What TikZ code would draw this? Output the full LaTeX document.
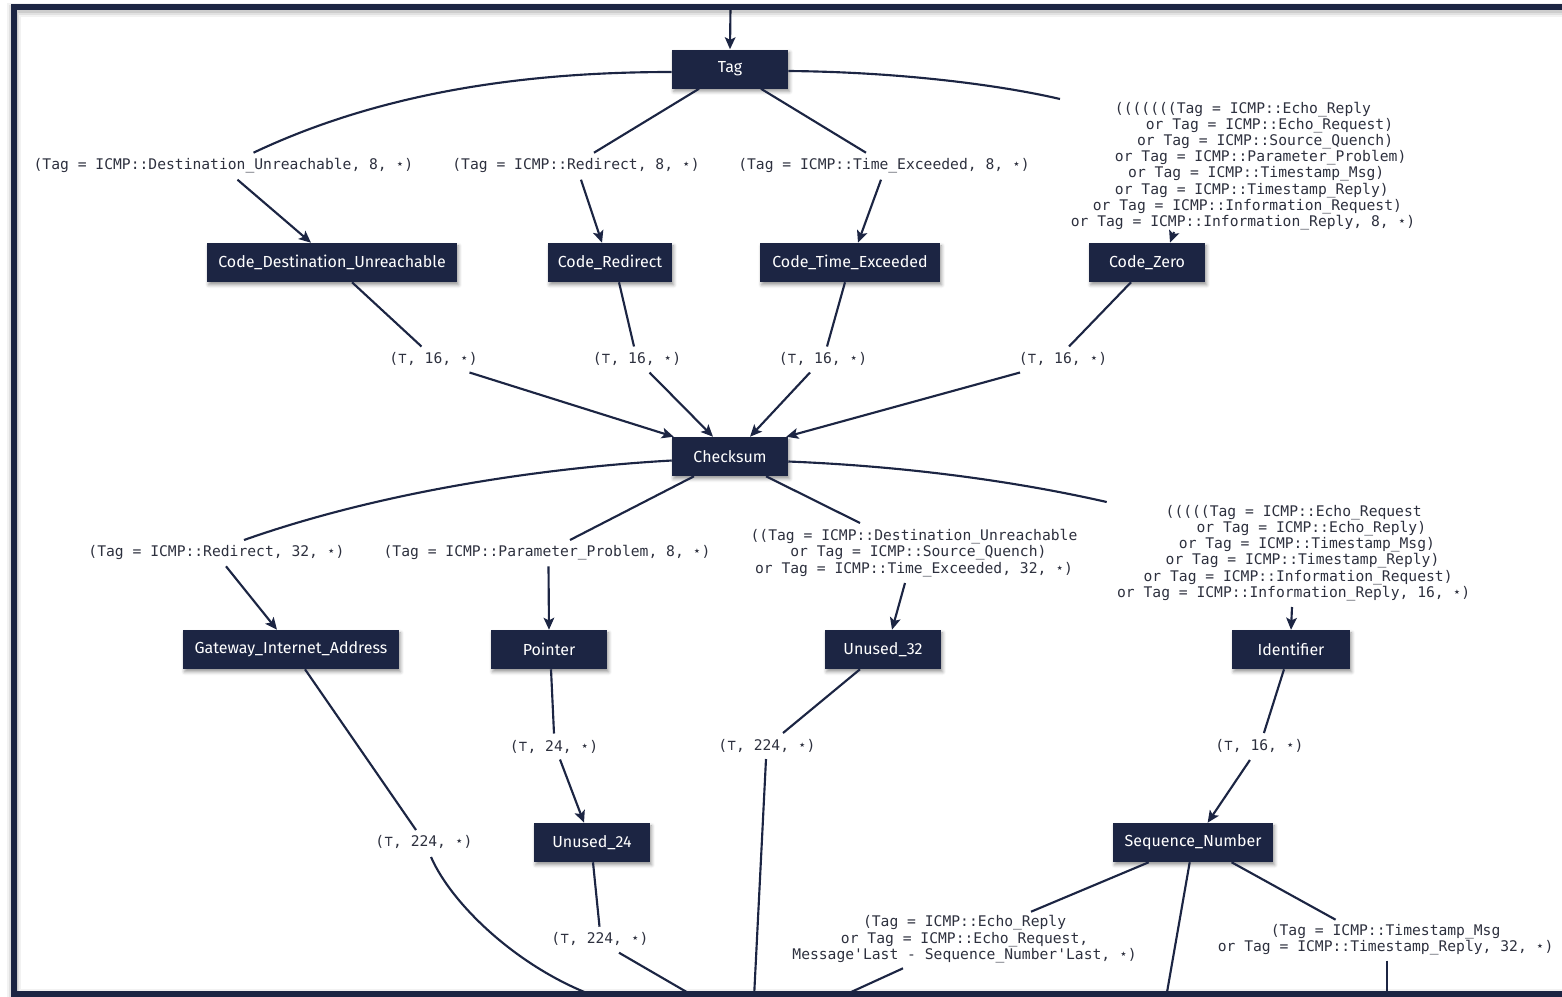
\documentclass[tikz,border=0pt]{standalone}
\usepackage{fontspec}
\setsansfont{Fira Sans}
\newfontfamily\condmono{DejaVu Sans Mono}[Ligatures=TeXOff]
\usetikzlibrary{calc,arrows.meta,shadows.blur}

\definecolor{navy}{RGB}{28,37,67}
\definecolor{condink}{RGB}{45,48,62}

\begin{document}
\begin{tikzpicture}[x=0.75pt,y=-0.75pt,
  field/.style={fill=navy, text=white, font=\sffamily\fontsize{12}{14}\selectfont,
    minimum width=#1*0.75pt, minimum height=29.25pt, inner sep=0pt,
    blur shadow={shadow xshift=1.2pt, shadow yshift=-2.2pt,
      shadow blur radius=2.5pt, shadow opacity=40}},
  cond/.style={font=\condmono\fontsize{11}{12.15}\selectfont, text=condink,
    align=center, inner sep=0pt},
  link/.style={draw=navy, line width=1.6pt},
  flow/.style={link, -{Stealth[length=9pt,width=8pt,inset=2pt]}},
]
\useasboundingbox (0,0) rectangle (1562,996);

\begin{scope}
\clip (14,7) rectangle (1562,993.5);

% record fields
\node[field=116] (tag)   at (730,69)     {Tag};
\node[field=250] (cdu)   at (332,262.5)  {Code\_Destination\_Unreachable};
\node[field=124] (cred)  at (610,262.5)  {Code\_Redirect};
\node[field=180] (cte)   at (850,262.5)  {Code\_Time\_Exceeded};
\node[field=116] (czero) at (1147,262.5) {Code\_Zero};
\node[field=116] (chk)   at (730,456.5)  {Checksum};
\node[field=216] (gia)   at (291,649.5)  {Gateway\_Internet\_Address};
\node[field=116] (ptr)   at (549,649.5)  {Pointer};
\node[field=116] (u32)   at (883,649.5)  {Unused\_32};
\node[field=118] (ident) at (1291,649.5) {Identifier};
\node[field=116] (u24)   at (592,842.5)  {Unused\_24};
\node[field=160] (seq)   at (1193,842.5) {Sequence\_Number};

% transition conditions
\node[cond] (l1) at (223.5,165.7) {(Tag = ICMP::Destination\_Unreachable, 8, ⋆)};
\node[cond] (l2) at (576,165.7) {(Tag = ICMP::Redirect, 8, ⋆)};
\node[cond] (l3) at (884,165.7) {(Tag = ICMP::Time\_Exceeded, 8, ⋆)};
\node[cond] (l4) at (1243,166) {(((((((Tag = ICMP::Echo\_Reply\\
  \hphantom{000000}or Tag = ICMP::Echo\_Request)\\
  \hphantom{00000}or Tag = ICMP::Source\_Quench)\\
  \hphantom{0000}or Tag = ICMP::Parameter\_Problem)\\
  \hphantom{000}or Tag = ICMP::Timestamp\_Msg)\\
  \hphantom{00}or Tag = ICMP::Timestamp\_Reply)\\
  \hphantom{0}or Tag = ICMP::Information\_Request)\\
  or Tag = ICMP::Information\_Reply, 8, ⋆)};

\node[cond] (t1) at (433.5,358.5) {(⊤, 16, ⋆)};
\node[cond] (t2) at (637,358.5)   {(⊤, 16, ⋆)};
\node[cond] (t3) at (823,358.5)   {(⊤, 16, ⋆)};
\node[cond] (t4) at (1063,358.5)  {(⊤, 16, ⋆)};

\node[cond] (r32) at (216.5,552.3) {(Tag = ICMP::Redirect, 32, ⋆)};
\node[cond] (pp)  at (547,552.3)   {(Tag = ICMP::Parameter\_Problem, 8, ⋆)};
\node[cond] (dsq) at (914,553) {((Tag = ICMP::Destination\_Unreachable\\
  \hphantom{0}or Tag = ICMP::Source\_Quench)\\
  or Tag = ICMP::Time\_Exceeded, 32, ⋆)};
\node[cond] (ech) at (1293.7,553) {(((((Tag = ICMP::Echo\_Request\\
  \hphantom{0000}or Tag = ICMP::Echo\_Reply)\\
  \hphantom{000}or Tag = ICMP::Timestamp\_Msg)\\
  \hphantom{00}or Tag = ICMP::Timestamp\_Reply)\\
  \hphantom{0}or Tag = ICMP::Information\_Request)\\
  or Tag = ICMP::Information\_Reply, 16, ⋆)};

\node[cond] (t24)  at (554,746.5)  {(⊤, 24, ⋆)};
\node[cond] (t224b) at (767,746)   {(⊤, 224, ⋆)};
\node[cond] (t16)  at (1259.4,746) {(⊤, 16, ⋆)};
\node[cond] (t224a) at (424,842)   {(⊤, 224, ⋆)};
\node[cond] (t224c) at (600,939.3) {(⊤, 224, ⋆)};
\node[cond] (eseq) at (964.6,939.3) {(Tag = ICMP::Echo\_Reply\\
  or Tag = ICMP::Echo\_Request,\\
  Message'Last - Sequence\_Number'Last, ⋆)};
\node[cond] (tseq) at (1385.6,939.7) {(Tag = ICMP::Timestamp\_Msg\\
  or Tag = ICMP::Timestamp\_Reply, 32, ⋆)};

% loose ends at the border of the view
\coordinate (entry) at (730.5,7);
\coordinate (outa) at (600,998);
\coordinate (outb) at (754,998);
\coordinate (outc) at (697,998);
\coordinate (oute) at (838,998);
\coordinate (outs) at (1166,998);
\coordinate (outt) at (1386.6,998);

% Tag
\draw[flow] (entry) -- (tag.north);
\draw[link] ($(tag.west)+(0,3)$) .. controls (540,72) and (390,88) .. ($(l1.center)+(30,-13)$);
\draw[flow] ($(l1.center)+(14,14)$) -- ($(cdu.north)+(-21,0)$);
\draw[link] ($(tag.south)+(-31,0)$) -- ($(l2.center)+(18,-13)$);
\draw[flow] ($(l2.center)+(5,14)$) -- ($(cred.north)+(-8,0)$);
\draw[link] ($(tag.south)+(31,0)$) -- ($(l3.center)+(-18,-13)$);
\draw[flow] ($(l3.center)+(-3,14)$) -- ($(cte.north)+(8,0)$);
\draw[link] ($(tag.east)+(0,2)$) .. controls (900,72) and (1000,85) .. ($(l4.center)+(-183,-67)$);
\draw[flow] ($(l4.center)+(-69,66)$) -- ($(czero.north)+(23,0)$);

% Code fields into Checksum
\draw[link] ($(cdu.south)+(20,0)$) -- ($(t1.center)+(-12,-12)$);
\draw[flow] ($(t1.center)+(36,14)$) -- ($(chk.north west)+(2,0)$);
\draw[link] ($(cred.south)+(9,0)$) -- ($(t2.center)+(-3,-12)$);
\draw[flow] ($(t2.center)+(12.5,14)$) -- ($(chk.north)+(-17,0)$);
\draw[link] ($(cte.south)+(-5,0)$) -- ($(t3.center)+(4,-12)$);
\draw[flow] ($(t3.center)+(-13,14)$) -- ($(chk.north)+(20,0)$);
\draw[link] ($(czero.south)+(-16,0)$) -- ($(t4.center)+(6,-12)$);
\draw[flow] ($(t4.center)+(-43,14)$) -- ($(chk.north east)+(-2,0)$);

% Checksum
\draw[link] ($(chk.west)+(0,4)$) .. controls (540,468) and (380,492) .. ($(r32.center)+(27.5,-12.3)$);
\draw[flow] ($(r32.center)+(9.5,14)$) -- ($(gia.north)+(-14,0)$);
\draw[link] ($(chk.south)+(-36,0)$) -- ($(pp.center)+(23,-12.3)$);
\draw[flow] ($(pp.center)+(1.5,14)$) -- (ptr.north);
\draw[link] ($(chk.south)+(36,0)$) -- ($(dsq.center)+(-54,-30)$);
\draw[flow] ($(dsq.center)+(-9,30)$) -- ($(u32.north)+(9,0)$);
\draw[link] ($(chk.east)+(0,5)$) .. controls (900,466) and (1010,480) .. ($(ech.center)+(-187,-51)$);
\draw[flow] ($(ech.center)+(-1.7,54)$) -- (ident.north);

% lower fields
\draw[link] ($(gia.south)+(14,0)$) -- ($(t224a.center)+(-8,-12)$);
\draw[link] ($(t224a.center)+(7,15)$) .. controls (452,905) and (520,970) .. (outa);
\draw[link] ($(ptr.south)+(2,0)$) -- ($(t24.center)+(0,-13)$);
\draw[flow] ($(t24.center)+(6,13)$) -- ($(u24.north)+(-8,0)$);
\draw[link] ($(u32.south)+(-23,0)$) -- ($(t224b.center)+(16,-13)$);
\draw[link] ($(t224b.center)+(-1,13)$) -- (outb);
\draw[link] ($(ident.south)+(-7,0)$) -- ($(t16.center)+(4.5,-13)$);
\draw[flow] ($(t16.center)+(-9.5,14)$) -- ($(seq.north)+(14.6,0)$);
\draw[link] ($(u24.south)+(1,0)$) -- ($(t224c.center)+(-0.5,-12.6)$);
\draw[link] ($(t224c.center)+(19,13.4)$) -- (outc);
\draw[link] ($(seq.south)+(-44.3,0)$) -- ($(eseq.center)+(66.4,-27.6)$);
\draw[link] ($(eseq.center)+(-61.6,29)$) -- (oute);
\draw[link] ($(seq.south)+(-3.3,0)$) -- (outs);
\draw[link] ($(seq.south)+(38.6,0)$) -- ($(tseq.center)+(-50,-20)$);
\draw[link] ($(tseq.center)+(1,21)$) -- (outt);
\end{scope}

% view border with its soft shadow
\foreach \w/\o in {14/0.05,10/0.07,7/0.09}
  \draw[line width=\w*0.75pt, black, opacity=\o, line join=miter]
    (1600,9.5) -- (14,9.5) -- (14,995.5) -- (1600,995.5);
\draw[line width=4.5pt, navy, line join=miter]
  (1600,7) -- (14,7) -- (14,993.5) -- (1600,993.5);
\end{tikzpicture}
\end{document}
